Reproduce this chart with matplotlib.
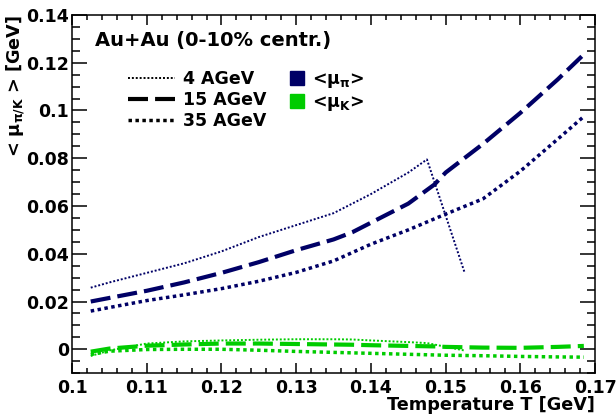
import numpy as np
import matplotlib
matplotlib.use('Agg')
import matplotlib.pyplot as plt
from matplotlib.lines import Line2D
from matplotlib.ticker import MultipleLocator

# Temperature T [GeV] and <mu> [GeV]
T_4 = [0.1025, 0.105, 0.11, 0.115, 0.12, 0.125, 0.13, 0.135, 0.1375, 0.14, 0.145, 0.1475, 0.1525]
mupi_4 = [0.0258, 0.028, 0.032, 0.036, 0.041, 0.047, 0.052, 0.057, 0.061, 0.065, 0.074, 0.0795, 0.0325]
muk_4 = [-0.0028, -0.0005, 0.0024, 0.0033, 0.0037, 0.004, 0.0042, 0.0042, 0.0041, 0.0037, 0.003, 0.0026, -0.0005]

T_15 = [0.1025, 0.105, 0.11, 0.115, 0.12, 0.125, 0.13, 0.135, 0.1375, 0.14, 0.145, 0.1485, 0.15,
        0.155, 0.16, 0.165, 0.1685]
mupi_15 = [0.020, 0.0215, 0.0245, 0.028, 0.032, 0.0365, 0.0415, 0.046, 0.049, 0.053, 0.061, 0.069, 0.074,
           0.086, 0.099, 0.113, 0.1235]
muk_15 = [-0.001, 0.0003, 0.0015, 0.002, 0.0024, 0.0024, 0.0022, 0.002, 0.0019, 0.0017, 0.0014, 0.0012, 0.001,
          0.0007, 0.0006, 0.001, 0.0014]

T_35 = [0.1025, 0.105, 0.11, 0.115, 0.12, 0.125, 0.13, 0.135, 0.14, 0.145, 0.15, 0.155, 0.16, 0.165, 0.1685]
mupi_35 = [0.016, 0.0175, 0.0204, 0.0228, 0.0254, 0.0285, 0.0322, 0.037, 0.044, 0.05, 0.0566, 0.063, 0.0746,
           0.088, 0.0975]
muk_35 = [-0.0022, -0.0008, -0.0001, 0.0, 0.0, -0.0004, -0.0009, -0.0013, -0.0017, -0.0021, -0.0025,
          -0.0027, -0.003, -0.0032, -0.0033]

col_pi = '#000066'
col_k = '#00cc00'

plt.rcParams['font.family'] = ['DejaVu Sans']
plt.rcParams['font.weight'] = 'bold'
plt.rcParams['mathtext.default'] = 'regular'

fig = plt.figure(figsize=(6.16, 4.16), dpi=100)
ax = fig.add_axes([0.117, 0.103, 0.849, 0.861])

sty_4 = dict(lw=1.4, dashes=(1.0, 1.0))
sty_15 = dict(lw=3.0, dashes=(4.8, 1.7))
sty_35 = dict(lw=2.5, dashes=(1.0, 1.0))

ax.plot(T_4, mupi_4, color=col_pi, **sty_4)
ax.plot(T_15, mupi_15, color=col_pi, **sty_15)
ax.plot(T_35, mupi_35, color=col_pi, **sty_35)
ax.plot(T_4, muk_4, color=col_k, **sty_4)
ax.plot(T_15, muk_15, color=col_k, **sty_15)
ax.plot(T_35, muk_35, color=col_k, **sty_35)

ax.set_xlim(0.1, 0.17)
ax.set_ylim(-0.01, 0.14)
ax.xaxis.set_major_locator(MultipleLocator(0.01))
ax.xaxis.set_minor_locator(MultipleLocator(0.002))
ax.yaxis.set_major_locator(MultipleLocator(0.02))
ax.yaxis.set_minor_locator(MultipleLocator(0.005))
ax.xaxis.set_major_formatter(plt.FuncFormatter(lambda v, p: f'{v:g}'))
ax.yaxis.set_major_formatter(plt.FuncFormatter(lambda v, p: f'{round(v, 3):g}'))

ax.tick_params(axis='x', which='major', direction='in', length=7.2, width=1.1, top=True, labelsize=12.5, pad=4)
ax.tick_params(axis='x', which='minor', direction='in', length=3.6, width=1.1, top=True)
ax.tick_params(axis='y', which='major', direction='in', length=10.8, width=1.1, right=True, labelsize=12.5, pad=2)
ax.tick_params(axis='y', which='minor', direction='in', length=5.8, width=1.1, right=True)
for s in ax.spines.values():
    s.set_linewidth(1.1)

ax.set_xlabel('Temperature T [GeV]', fontsize=12.7, fontweight='bold', loc='right')
ax.xaxis.set_label_coords(1.0, -0.065)
ax.set_ylabel(r'< $\mu_{\pi/K}$ > [GeV]', fontsize=12.7, fontweight='bold', loc='top')
ax.yaxis.set_label_coords(-0.086, 1.0)

ax.text(0.044, 0.93, 'Au+Au (0-10% centr.)', transform=ax.transAxes, fontsize=14,
        fontweight='bold', va='center', ha='left')

h1 = [Line2D([], [], color='black', **sty_4),
      Line2D([], [], color='black', **sty_15),
      Line2D([], [], color='black', **sty_35)]
leg1 = ax.legend(h1, ['4 AGeV', '15 AGeV', '35 AGeV'], loc='upper left', bbox_to_anchor=(0.107, 0.846),
                 frameon=False, fontsize=12.5, borderpad=0, borderaxespad=0, handlelength=2.7,
                 handletextpad=0.46, labelspacing=0.17)
ax.add_artist(leg1)

h2 = [Line2D([], [], ls='none', marker='s', ms=9.5, color=col_pi),
      Line2D([], [], ls='none', marker='s', ms=9.5, color=col_k)]
ax.legend(h2, [r'<$\mu_\pi$>', r'<$\mu_K$>'], loc='upper left', bbox_to_anchor=(0.413, 0.846),
          frameon=False, fontsize=12.5, borderpad=0, borderaxespad=0, handlelength=1.0,
          handletextpad=0.35, labelspacing=0.17)

fig.savefig('out.png', dpi=100)
